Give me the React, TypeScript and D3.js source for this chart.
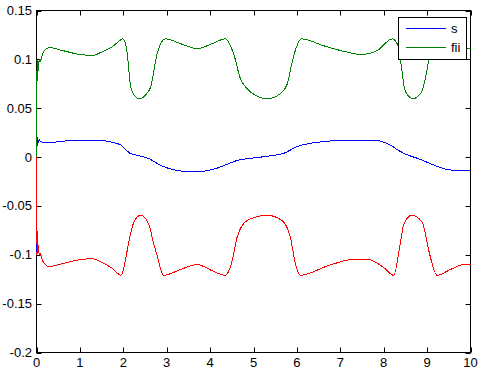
import React from "react";
import * as d3 from "d3";

const xTicks = [0, 1, 2, 3, 4, 5, 6, 7, 8, 9, 10];
const yTicks = [-0.2, -0.15, -0.1, -0.05, 0, 0.05, 0.1, 0.15];
const yTickLabels = ["-0.2", "-0.15", "-0.1", "-0.05", "0", "0.05", "0.1", "0.15"];

const sT = [0, 0.01, 0.02, 0.03, 0.04, 0.06, 0.1, 0.2, 0.5, 0.8, 1.5, 1.7, 1.94, 2.05, 2.15, 2.25, 2.38, 2.61, 2.84, 3.32, 3.7, 4.15, 4.61, 5.24, 5.7, 6.0, 6.54, 7.15, 7.76, 8.15, 8.3, 8.46, 8.84, 9.15, 9.53, 10];
const sV = [-0.1, 0.021, 0.012, 0.02, 0.015, 0.018, 0.0155, 0.0152, 0.0155, 0.0172, 0.0172, 0.0155, 0.0124, 0.008, 0.004, 0.0025, 0.0012, -0.002, -0.008, -0.0142, -0.0152, -0.0115, -0.0037, 0.0004, 0.0039, 0.0106, 0.0155, 0.0172, 0.0172, 0.0124, 0.008, 0.0039, -0.0023, -0.0081, -0.0132, -0.0142];

const fiiT = [0, 0.01, 0.02, 0.03, 0.045, 0.06, 0.08, 0.12, 0.2, 0.3, 0.6, 1.0, 1.3, 1.5, 1.75, 2.0, 2.09, 2.17, 2.26, 2.38, 2.5, 2.63, 2.78, 2.97, 3.32, 3.7, 4.08, 4.35, 4.54, 4.7, 4.85, 5.05, 5.32, 5.62, 5.78, 5.88, 5.97, 6.1, 6.61, 7.1, 7.47, 7.85, 8.2, 8.33, 8.4, 8.48, 8.58, 8.69, 8.8, 8.89, 9.0, 9.1, 9.23, 9.54, 9.85, 10];
const fiiV = [0, 0.1, 0.078, 0.1, 0.088, 0.1, 0.097, 0.103, 0.11, 0.112, 0.109, 0.105, 0.104, 0.1075, 0.113, 0.121, 0.106, 0.0716, 0.063, 0.0597, 0.063, 0.0716, 0.106, 0.121, 0.116, 0.111, 0.1167, 0.121, 0.106, 0.08, 0.07, 0.063, 0.0597, 0.065, 0.075, 0.095, 0.11, 0.121, 0.114, 0.108, 0.105, 0.109, 0.121, 0.114, 0.095, 0.07, 0.062, 0.0597, 0.063, 0.068, 0.09, 0.113, 0.121, 0.115, 0.111, 0.111];

const negT = [0, 0.01, 0.02, 0.03, 0.045, 0.06, 0.08, 0.12, 0.2, 0.3, 0.6, 1.0, 1.3, 1.47, 1.75, 1.95, 2.05, 2.13, 2.24, 2.4, 2.59, 2.68, 2.77, 2.93, 3.32, 3.7, 4.08, 4.35, 4.51, 4.62, 4.85, 5.31, 5.66, 5.85, 5.97, 6.08, 6.7, 7.31, 7.62, 8.0, 8.23, 8.39, 8.46, 8.65, 8.89, 9.04, 9.23, 9.54, 9.85, 10];
const negV = [0, -0.1, -0.076, -0.1, -0.09, -0.1, -0.098, -0.104, -0.11, -0.112, -0.109, -0.105, -0.104, -0.107, -0.114, -0.121, -0.105, -0.086, -0.067, -0.0595, -0.069, -0.085, -0.0995, -0.121, -0.115, -0.11, -0.117, -0.121, -0.106, -0.0824, -0.065, -0.0595, -0.065, -0.0824, -0.11, -0.121, -0.1115, -0.1046, -0.1046, -0.113, -0.121, -0.086, -0.069, -0.0595, -0.067, -0.096, -0.121, -0.115, -0.11, -0.11];

const legendLabels = ["s", "fii"];

const W = 484;
const H = 375;
const L = 36.5, R = 470.5, T = 10.5, B = 352.5;
const FONT = "'Liberation Sans', Arial, sans-serif";

export default function App() {
  const x = d3.scaleLinear().domain([0, 10]).range([L, R]);
  const y = d3.scaleLinear().domain([-0.2, 0.15]).range([B, T]);
  const mk = (ts: number[], vs: number[]) =>
    d3
      .line<[number, number]>()
      .x((d) => x(d[0]))
      .y((d) => y(d[1]))
      .curve(d3.curveMonotoneX)(ts.map((t, i) => [t, vs[i]] as [number, number])) || "";
  const series = [
    { d: mk(sT, sV), c: "#0000ff" },
    { d: mk(fiiT, fiiV), c: "#008000" },
    { d: mk(negT, negV), c: "#ff0000" },
  ];
  const tl = 5;
  return (
    <svg
      width={W}
      height={H}
      style={{ position: "absolute", left: 0, top: 0, background: "#fff" }}
      fontFamily={FONT}
    >
      <rect x={0} y={0} width={W} height={H} fill="#fff" />
      <rect x={L} y={T} width={R - L} height={B - T} fill="none" stroke="#000" strokeWidth={1} />
      {xTicks.map((t) => (
        <g key={"x" + t}>
          <line x1={Math.round(x(t)) + 0.5} x2={Math.round(x(t)) + 0.5} y1={B} y2={B - tl} stroke="#000" />
          <line x1={Math.round(x(t)) + 0.5} x2={Math.round(x(t)) + 0.5} y1={T} y2={T + tl} stroke="#000" />
          <text x={x(t)} y={367} textAnchor="middle" fontSize={13} fill="#000">
            {t}
          </text>
        </g>
      ))}
      {yTicks.map((t, i) => (
        <g key={"y" + t}>
          <line x1={L} x2={L + tl} y1={Math.round(y(t)) + 0.5} y2={Math.round(y(t)) + 0.5} stroke="#000" />
          <line x1={R} x2={R - tl} y1={Math.round(y(t)) + 0.5} y2={Math.round(y(t)) + 0.5} stroke="#000" />
          <text x={32} y={y(t) + 4.5} textAnchor="end" fontSize={13} fill="#000">
            {yTickLabels[i]}
          </text>
        </g>
      ))}
      {series.map((s, i) => (
        <path key={i} d={s.d} fill="none" stroke={s.c} strokeWidth={1} shapeRendering="crispEdges" />
      ))}
      <g>
        <rect x={398.5} y={17.5} width={68} height={42} fill="#fff" stroke="#000" />
        {legendLabels.map((lab, i) => (
          <g key={lab}>
            <line x1={406} x2={446} y1={28.5 + i * 19} y2={28.5 + i * 19} stroke={series[i].c} />
            <text x={451} y={33 + i * 19} fontSize={13} fill="#000">
              {lab}
            </text>
          </g>
        ))}
      </g>
    </svg>
  );
}
